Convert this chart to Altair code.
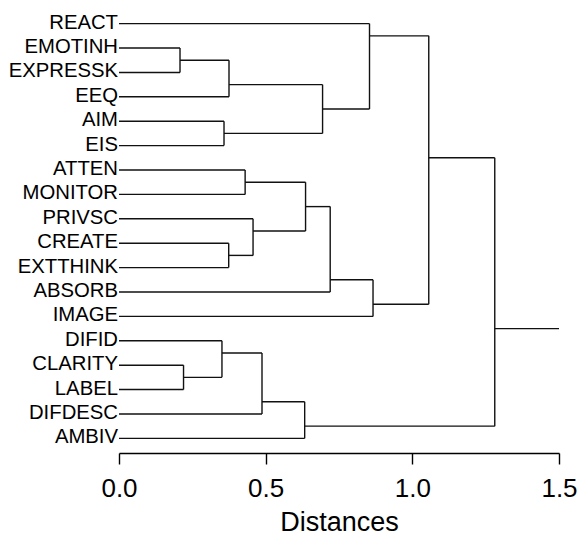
import altair as alt
import pandas as pd

# Leaves, top to bottom
leaves = ["REACT", "EMOTINH", "EXPRESSK", "EEQ", "AIM", "EIS",
          "ATTEN", "MONITOR", "PRIVSC", "CREATE", "EXTTHINK", "ABSORB",
          "IMAGE", "DIFID", "CLARITY", "LABEL", "DIFDESC", "AMBIV"]

# Merges: (child1, child2) node ids; leaves are 0..17, new clusters get 18, 19, ...
merge_left = [1, 18, 4, 19, 0, 6, 9, 8, 23, 26, 27, 22, 14, 13, 31, 32, 29]
merge_right = [2, 3, 5, 20, 21, 7, 10, 24, 25, 11, 12, 28, 15, 30, 16, 17, 33]
merge_dist = [0.208, 0.375, 0.358, 0.694, 0.854, 0.430, 0.374, 0.457, 0.636,
              0.720, 0.866, 1.056, 0.220, 0.351, 0.4875, 0.633, 1.281]
root_tail = 1.5
ticks = [0.0, 0.5, 1.0, 1.5]

# Build geometry
n = len(leaves)
lo = list(range(n))
hi = list(range(n))
ypos = [float(i) for i in range(n)]
height = [0.0] * n
segs = []
for a, b, d in zip(merge_left, merge_right, merge_dist):
    ya, yb = ypos[a], ypos[b]
    segs.append({"x": d, "x2": d, "y": ya, "y2": yb})
    segs.append({"x": height[a], "x2": d, "y": ya, "y2": ya})
    segs.append({"x": height[b], "x2": d, "y": yb, "y2": yb})
    lo.append(min(lo[a], lo[b]))
    hi.append(max(hi[a], hi[b]))
    ypos.append((hi[a] + lo[b]) / 2.0)
    height.append(d)
root = len(ypos) - 1
segs.append({"x": height[root], "x2": root_tail, "y": ypos[root], "y2": ypos[root]})

seg_df = pd.DataFrame(segs)
lab_df = pd.DataFrame({"label": leaves, "row": list(range(n)), "x0": [0.0] * n})

xscale = alt.Scale(domain=[0, 1.5], nice=False, zero=False)
yscale = alt.Scale(domain=[-0.6, 17.6], reverse=True, nice=False, zero=False)

rules = alt.Chart(seg_df).mark_rule(color="#111111", strokeWidth=1.4).encode(
    x=alt.X("x:Q", scale=xscale,
            axis=alt.Axis(values=ticks, format=".1f", title="Distances",
                          grid=False, labelFlush=False)),
    x2="x2:Q",
    y=alt.Y("y:Q", scale=yscale, axis=None),
    y2="y2:Q",
)

labels = alt.Chart(lab_df).mark_text(
    align="right", baseline="middle", dx=-1, dy=-1,
    fontSize=20.3, font="Liberation Sans", color="#000000"
).encode(
    x=alt.X("x0:Q", scale=xscale),
    y=alt.Y("row:Q", scale=yscale, axis=None),
    text="label:N",
)

chart = (rules + labels).properties(
    width=440, height=444,
    autosize=alt.AutoSizeParams(type="none"),
    padding={"left": 111, "top": 1, "right": 18, "bottom": 83},
).configure_view(stroke=None).configure_axis(
    domainColor="#000000", domainWidth=1.4,
    tickColor="#000000", tickWidth=1.4, tickSize=11,
    labelFont="Liberation Sans", labelFontSize=26, labelColor="#000000",
    labelPadding=11,
    titleFont="Liberation Sans", titleFontSize=27, titleFontWeight="normal",
    titleColor="#000000", titlePadding=8,
)

chart.save("out.html", embed_options={"renderer": "svg", "actions": False})
